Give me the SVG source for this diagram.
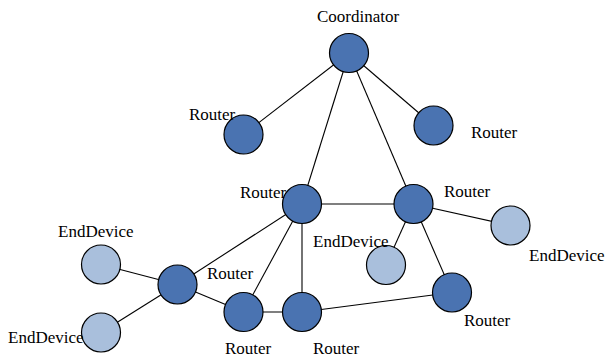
<svg xmlns="http://www.w3.org/2000/svg" width="606" height="361" viewBox="0 0 606 361">
<style>
.r{fill:#4a73b1;stroke:#000;stroke-width:1.2}
.e{fill:#a9bfdc;stroke:#000;stroke-width:1.2}
text{font-family:'Liberation Serif','Times New Roman',Times,serif;font-size:17px;fill:#000}
#edges line{stroke:#000;stroke-width:1.1}
</style>
<rect width="606" height="361" fill="#fff"/>
<g id="edges">
<line x1="349" y1="53" x2="243.5" y2="134.5"/>
<line x1="349" y1="53" x2="302" y2="204"/>
<line x1="349" y1="53" x2="413.5" y2="204"/>
<line x1="349" y1="53" x2="433.5" y2="125.5"/>
<line x1="302" y1="204" x2="413.5" y2="204"/>
<line x1="413.5" y1="204" x2="510.5" y2="225.5"/>
<line x1="413.5" y1="204" x2="386" y2="265"/>
<line x1="413.5" y1="204" x2="452" y2="292.5"/>
<line x1="302" y1="204" x2="177.5" y2="284.5"/>
<line x1="302" y1="204" x2="243.5" y2="312"/>
<line x1="302" y1="204" x2="302" y2="312"/>
<line x1="177.5" y1="284.5" x2="101" y2="264.5"/>
<line x1="177.5" y1="284.5" x2="101" y2="332.5"/>
<line x1="177.5" y1="284.5" x2="243.5" y2="312"/>
<line x1="243.5" y1="312" x2="302" y2="312"/>
<line x1="302" y1="312" x2="452" y2="292.5"/>
</g>
<g id="coordinator"><circle class="r" cx="349" cy="53" r="19.5"/><text x="317" y="22">Coordinator</text></g>
<g id="router1"><circle class="r" cx="243.5" cy="134.5" r="19.5"/><text x="189" y="120">Router</text></g>
<g id="router2"><circle class="r" cx="433.5" cy="125.5" r="19.5"/><text x="471" y="138">Router</text></g>
<g id="router3"><circle class="r" cx="302" cy="204" r="19.5"/><text x="240" y="198">Router</text></g>
<g id="router4"><circle class="r" cx="413.5" cy="204" r="19.5"/><text x="444" y="197">Router</text></g>
<g id="enddevice1"><circle class="e" cx="510.5" cy="225.5" r="19.5"/><text x="529" y="261">EndDevice</text></g>
<g id="enddevice2"><circle class="e" cx="386" cy="265" r="19.5"/><text x="313" y="247">EndDevice</text></g>
<g id="router5"><circle class="r" cx="452" cy="292.5" r="19.5"/><text x="464" y="326">Router</text></g>
<g id="router6"><circle class="r" cx="177.5" cy="284.5" r="19.5"/><text x="207" y="279">Router</text></g>
<g id="enddevice3"><circle class="e" cx="101" cy="264.5" r="19.5"/><text x="58" y="237">EndDevice</text></g>
<g id="enddevice4"><circle class="e" cx="101" cy="332.5" r="19.5"/><text x="8" y="343">EndDevice</text></g>
<g id="router7"><circle class="r" cx="243.5" cy="312" r="19.5"/><text x="225" y="354">Router</text></g>
<g id="router8"><circle class="r" cx="302" cy="312" r="19.5"/><text x="313" y="354">Router</text></g>
</svg>
